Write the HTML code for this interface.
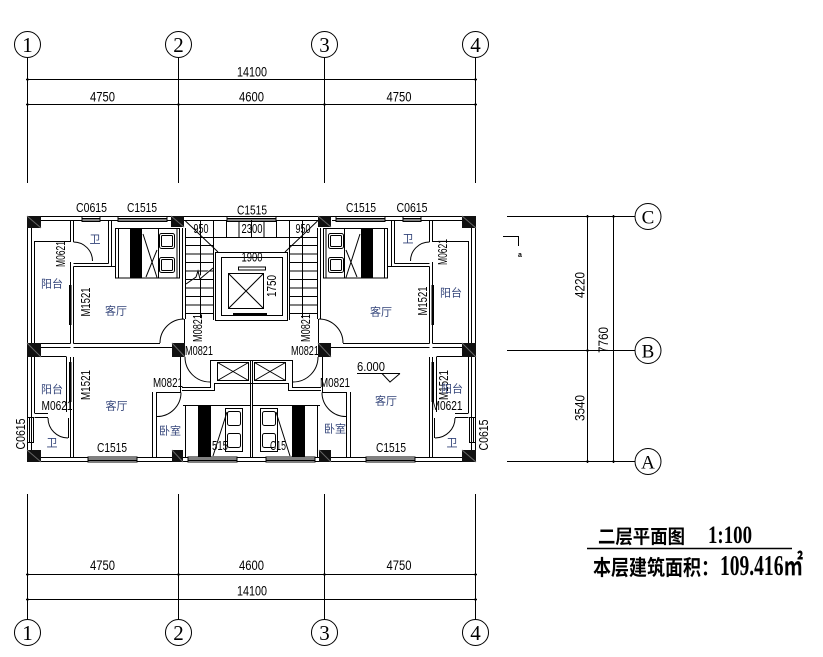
<!DOCTYPE html>
<html><head><meta charset="utf-8"><style>
html,body{margin:0;padding:0;background:#fff;}
svg{display:block;}
.t{font-family:"Liberation Sans",sans-serif;font-size:12.5px;fill:#000;text-anchor:middle;}
.d{font-family:"Liberation Sans",sans-serif;font-size:13.5px;fill:#000;text-anchor:middle;}
.cn{font-family:"Noto Sans CJK SC",sans-serif;font-size:11px;fill:#34457a;text-anchor:middle;}
.g{font-family:"Liberation Serif",serif;font-size:21px;fill:#000;text-anchor:middle;}
</style></head><body>
<svg width="823" height="657" viewBox="0 0 823 657" xmlns="http://www.w3.org/2000/svg">
<rect width="823" height="657" fill="#fff"/>

<!-- ===== TOP GRID ===== -->
<g fill="none" stroke="#000" stroke-width="1">
<circle cx="27.5" cy="44.5" r="13"/><circle cx="178.5" cy="44.5" r="13"/>
<circle cx="324.5" cy="44.5" r="13"/><circle cx="475.5" cy="44.5" r="13"/>
<path d="M27.5 57.5V183M178.5 57.5V183M324.5 57.5V183M475.5 57.5V183"/>
<path d="M26 79.5H477M26 104.5H477"/>
<!-- bottom grid -->
<circle cx="27.5" cy="632.5" r="13"/><circle cx="178.5" cy="632.5" r="13"/>
<circle cx="324.5" cy="632.5" r="13"/><circle cx="475.5" cy="632.5" r="13"/>
<path d="M27.5 494V619.5M178.5 494V619.5M324.5 494V619.5M475.5 494V619.5"/>
<path d="M26 574.5H477M26 599.5H477"/>
<!-- right grid -->
<path d="M507 216.5H635M507 350.5H635M507 461.5H635"/>
<circle cx="648" cy="216.5" r="13"/><circle cx="648" cy="350.5" r="13"/><circle cx="648" cy="461.5" r="13"/>
<path d="M587.5 215V463M613.5 215V463"/>
<path d="M503 236.5H518.5V246"/>
</g>
<g fill="#000">
<rect x="26.5" y="78.5" width="2" height="2"/><rect x="474.5" y="78.5" width="2" height="2"/>
<rect x="26.5" y="103.5" width="2" height="2"/><rect x="177.5" y="103.5" width="2" height="2"/>
<rect x="323.5" y="103.5" width="2" height="2"/><rect x="474.5" y="103.5" width="2" height="2"/>
<rect x="26.5" y="573.5" width="2" height="2"/><rect x="177.5" y="573.5" width="2" height="2"/>
<rect x="323.5" y="573.5" width="2" height="2"/><rect x="474.5" y="573.5" width="2" height="2"/>
<rect x="26.5" y="598.5" width="2" height="2"/><rect x="474.5" y="598.5" width="2" height="2"/>
<rect x="586.5" y="215.5" width="2" height="2"/><rect x="586.5" y="349.5" width="2" height="2"/><rect x="586.5" y="460.5" width="2" height="2"/>
<rect x="612.5" y="215.5" width="2" height="2"/><rect x="612.5" y="460.5" width="2" height="2"/>
</g>
<text class="g" x="27.5" y="52">1</text><text class="g" x="178.5" y="52">2</text>
<text class="g" x="324.5" y="52">3</text><text class="g" x="475.5" y="52">4</text>
<text class="g" x="27.5" y="640">1</text><text class="g" x="178.5" y="640">2</text>
<text class="g" x="324.5" y="640">3</text><text class="g" x="475.5" y="640">4</text>
<text class="g" x="648" y="223.5" style="font-size:19px">C</text>
<text class="g" x="648" y="357.5" style="font-size:19px">B</text>
<text class="g" x="648" y="468.5" style="font-size:19px">A</text>

<text class="d" x="252" y="76.5" textLength="30" lengthAdjust="spacingAndGlyphs">14100</text>
<text class="d" x="102.5" y="101.5" textLength="25" lengthAdjust="spacingAndGlyphs">4750</text>
<text class="d" x="251.5" y="101.5" textLength="25" lengthAdjust="spacingAndGlyphs">4600</text>
<text class="d" x="399" y="101.5" textLength="25" lengthAdjust="spacingAndGlyphs">4750</text>
<text class="d" x="102.5" y="570" textLength="25" lengthAdjust="spacingAndGlyphs">4750</text>
<text class="d" x="251.5" y="570" textLength="25" lengthAdjust="spacingAndGlyphs">4600</text>
<text class="d" x="399" y="570" textLength="25" lengthAdjust="spacingAndGlyphs">4750</text>
<text class="d" x="252" y="595.5" textLength="30" lengthAdjust="spacingAndGlyphs">14100</text>
<text class="d" transform="translate(584.5,285) rotate(-90)" textLength="26" lengthAdjust="spacingAndGlyphs">4220</text>
<text class="d" transform="translate(608,340) rotate(-90)" textLength="26" lengthAdjust="spacingAndGlyphs">7760</text>
<text class="d" transform="translate(584.5,408) rotate(-90)" textLength="26" lengthAdjust="spacingAndGlyphs">3540</text>
<text x="518" y="257" style="font-family:'Liberation Sans',sans-serif;font-size:7px;font-weight:bold">a</text>

<!-- ===== BUILDING ===== -->
<g fill="none" stroke="#000" stroke-width="1">
<path d="M27.5 216.5H475.5V461.5H27.5Z"/>
</g>

<g id="L" fill="none" stroke="#000" stroke-width="1">
 <path d="M41 220.5H171M184 220.5H251.5M41 457.5H172M183 457.5H251.5"/>
 <path d="M31.5 228V343M31.5 357V450M34.5 241V343M34.5 357V413"/>
 <rect x="82" y="216.5" width="18" height="5" fill="#fff"/>
 <path d="M82 218.5H100M82 220H100"/>
 <rect x="118" y="216.5" width="49" height="5" fill="#fff"/>
 <path d="M118 218.5H167M118 220H167"/>
 <rect x="88" y="457" width="49" height="5" fill="#fff"/>
 <path d="M88 459H137M88 460.5H137"/>
 <rect x="188" y="457" width="49" height="5" fill="#fff"/>
 <path d="M188 459H237M188 460.5H237"/>
 <rect x="27.5" y="417.5" width="6" height="25" fill="#fff"/>
 <path d="M29.5 417.5V442.5M31.5 417.5V442.5"/>
 <path d="M34.5 241.5H70.5"/>
 <path d="M70.5 220V242M73.5 220V242M70.5 262V343.5M73.5 266.5V343.5"/>
 <path d="M73.5 242A19 19 0 0 1 92.5 261"/>
 <path d="M108.5 220V263.5M111.5 220V266.5M73.5 263.5H108.5M73.5 266.5H115"/>
 <rect x="115.5" y="228.5" width="64" height="49.5"/>
 <path d="M118.5 229V278M143 234L157 277.5M146 277L157 250M158.5 229V278M177 229V278"/>
 <rect x="159.5" y="233.5" width="15" height="15" rx="2"/>
 <rect x="161.5" y="235.5" width="11" height="11" rx="1"/>
 <rect x="159.5" y="257.5" width="15" height="15" rx="2"/>
 <rect x="161.5" y="259.5" width="11" height="11" rx="1"/>
 <path d="M41 343.5H70.5M73.5 343.5H160M41 347.5H70.5M73.5 347.5H172M34.5 356.5H66.5"/>
 <path d="M160 343A24 24 0 0 1 184 319M184.5 319V343"/>
 <path d="M182.5 228V319M185.5 228V319"/>
 <path d="M70.5 357V458M73.5 357V458M66.5 357V412"/>
 <path d="M34.5 413.5H48M34.5 417.5H48"/>
 <path d="M48 418A20 20 0 0 0 68 438M68.5 418V438"/>
 <path d="M152.5 392V458M156.5 392V458"/>
 <path d="M181 392.5A24 24 0 0 1 157 416.5"/>
 <path d="M180.5 357V392.5H156.5"/>
 <path d="M185 357A25 25 0 0 0 210 382"/>
 <path d="M182 387.5H210.5V360.5H251.5M182 390.5H214.5V383.5H251.5"/>
 <rect x="217.5" y="362.5" width="31" height="18"/>
 <path d="M217.5 362.5L248.5 380.5M248.5 362.5L217.5 380.5"/>
 <path d="M250.5 360V458"/>
 <path d="M183 405.5H250.5M185.5 405.5V458M213 456L227 412"/>
 <rect x="225.5" y="408.5" width="17" height="43"/>
 <rect x="227.5" y="411.5" width="13" height="14" rx="2"/>
 <rect x="227.5" y="433.5" width="13" height="14" rx="2"/>
 <path d="M200.5 220.5V237.5M213.5 220.5V237.5M226.5 220.5V237.5M239 220.5V237.5"/>
 <path d="M186 237.5H251.5"/>
 <path d="M185.5 245.5H213.5M185.5 254H213.5M185.5 262.5H213.5M185.5 271H213.5M185.5 279.5H213.5M185.5 288H213.5M185.5 296.5H213.5M185.5 305H213.5M185.5 313.5H213.5"/>
 <path d="M213.5 237V320M200.5 237V318"/>
 <path d="M185.5 221L218 252"/>
</g>
<use href="#L" transform="translate(503,0) scale(-1,1)"/>

<g fill="none" stroke="#000" stroke-width="1">
 <rect x="227" y="216.5" width="49" height="5" fill="#fff"/>
 <path d="M227 218.5H276M227 220H276"/>
 <path d="M251.5 220.5V237.5"/>
 <path d="M186 284L196 277L198 271L200 279L213 268" fill="#fff"/>
 <rect x="215.5" y="252.5" width="72" height="68" fill="#fff"/>
 <rect x="221.5" y="257.5" width="61" height="58"/>
 <rect x="228.5" y="273.5" width="35" height="35"/>
 <path d="M228.5 273.5L263.5 308.5M263.5 273.5L228.5 308.5"/>
 <rect x="238.5" y="267" width="27" height="3"/>
</g>
<rect x="233" y="313" width="34" height="3" fill="#000"/>

<g fill="#000">
 <rect x="69" y="285" width="2.5" height="40"/><rect x="431.5" y="285" width="2.5" height="40"/>
 <rect x="69" y="362" width="2.5" height="40"/><rect x="431.5" y="362" width="2.5" height="40"/>
 <rect x="130" y="229" width="12" height="49"/><rect x="361" y="229" width="12" height="49"/>
 <rect x="198" y="406" width="13" height="51"/><rect x="292" y="406" width="13" height="51"/>
</g>

<g fill="none" stroke="#000" stroke-width="1">
 <path d="M357 373.5H400M382 373.5L390 382L400 373.5"/>
</g>

<text class="t" x="91.5" y="212" textLength="31" lengthAdjust="spacingAndGlyphs">C0615</text>
<text class="t" x="142" y="212" textLength="30" lengthAdjust="spacingAndGlyphs">C1515</text>
<text class="t" x="252" y="214.5" textLength="30" lengthAdjust="spacingAndGlyphs">C1515</text>
<text class="t" x="361" y="212" textLength="30" lengthAdjust="spacingAndGlyphs">C1515</text>
<text class="t" x="412" y="212" textLength="31" lengthAdjust="spacingAndGlyphs">C0615</text>
<text class="t" x="112" y="452" textLength="30" lengthAdjust="spacingAndGlyphs">C1515</text>
<text class="t" x="391" y="452" textLength="30" lengthAdjust="spacingAndGlyphs">C1515</text>
<text class="t" x="220" y="450" textLength="16" lengthAdjust="spacingAndGlyphs">515</text>
<text class="t" x="278" y="450" textLength="16" lengthAdjust="spacingAndGlyphs">C15</text>
<text class="t" transform="translate(25,434) rotate(-90)" textLength="31" lengthAdjust="spacingAndGlyphs">C0615</text>
<text class="t" transform="translate(488,435) rotate(-90)" textLength="31" lengthAdjust="spacingAndGlyphs">C0615</text>

<text class="t" x="201" y="233" textLength="15" lengthAdjust="spacingAndGlyphs">950</text>
<text class="t" x="252" y="233" textLength="21" lengthAdjust="spacingAndGlyphs">2300</text>
<text class="t" x="303" y="233" textLength="15" lengthAdjust="spacingAndGlyphs">950</text>
<text class="t" x="252" y="261.5" textLength="21" lengthAdjust="spacingAndGlyphs">1900</text>
<text class="t" transform="translate(276,286) rotate(-90)" textLength="22" lengthAdjust="spacingAndGlyphs">1750</text>

<text class="t" transform="translate(65,254) rotate(-90)" textLength="26" lengthAdjust="spacingAndGlyphs">M0621</text>
<text class="t" transform="translate(90,302) rotate(-90)" textLength="29" lengthAdjust="spacingAndGlyphs">M1521</text>
<text class="t" transform="translate(447,252) rotate(-90)" textLength="26" lengthAdjust="spacingAndGlyphs">M0621</text>
<text class="t" transform="translate(427,301) rotate(-90)" textLength="29" lengthAdjust="spacingAndGlyphs">M1521</text>
<text class="t" transform="translate(202,328) rotate(-90)" textLength="28" lengthAdjust="spacingAndGlyphs">M0821</text>
<text class="t" transform="translate(310,328) rotate(-90)" textLength="28" lengthAdjust="spacingAndGlyphs">M0821</text>
<text class="t" x="199" y="355" textLength="28" lengthAdjust="spacingAndGlyphs">M0821</text>
<text class="t" x="305" y="355" textLength="28" lengthAdjust="spacingAndGlyphs">M0821</text>
<text class="t" transform="translate(90,385) rotate(-90)" textLength="30" lengthAdjust="spacingAndGlyphs">M1521</text>
<text class="t" transform="translate(448,385) rotate(-90)" textLength="30" lengthAdjust="spacingAndGlyphs">M1521</text>
<text class="t" x="57" y="410" textLength="31" lengthAdjust="spacingAndGlyphs">M0621</text>
<text class="t" x="447" y="410" textLength="31" lengthAdjust="spacingAndGlyphs">M0621</text>
<text class="t" x="168" y="387" textLength="30" lengthAdjust="spacingAndGlyphs">M0821</text>
<text class="t" x="335" y="387" textLength="30" lengthAdjust="spacingAndGlyphs">M0821</text>
<text class="t" x="371" y="371" textLength="28" lengthAdjust="spacingAndGlyphs">6.000</text>

<text class="cn" x="95" y="243">卫</text>
<text class="cn" x="52" y="287.5">阳台</text>
<text class="cn" x="116" y="314.5">客厅</text>
<text class="cn" x="408" y="242.5">卫</text>
<text class="cn" x="451" y="296.5">阳台</text>
<text class="cn" x="381" y="315.5">客厅</text>
<text class="cn" x="52" y="393">阳台</text>
<text class="cn" x="52" y="446.5">卫</text>
<text class="cn" x="116.5" y="409.5">客厅</text>
<text class="cn" x="170" y="434.5">卧室</text>
<text class="cn" x="335" y="432.5">卧室</text>
<text class="cn" x="386" y="404.5">客厅</text>
<text class="cn" x="452" y="392.5">阳台</text>
<text class="cn" x="452" y="446.5">卫</text>

<g fill="#111">
 <rect x="27" y="216" width="14" height="12"/><rect x="171" y="216" width="13" height="11"/>
 <rect x="318" y="216" width="13" height="11"/><rect x="462" y="216" width="14" height="12"/>
 <rect x="27" y="343" width="14" height="14"/><rect x="172" y="343" width="13" height="14"/>
 <rect x="318" y="343" width="13" height="14"/><rect x="462" y="343" width="14" height="14"/>
 <rect x="27" y="450" width="14" height="12"/><rect x="172" y="450" width="11" height="12"/>
 <rect x="319" y="450" width="12" height="12"/><rect x="462" y="450" width="14" height="12"/>
</g>
<g stroke="#666" stroke-width="1">
 <path d="M27 216L41 228M462 216L476 228M27 343L41 357M462 343L476 357M27 450L41 462M462 450L476 462M171 216L184 227M318 216L331 227M172 343L185 357M318 343L331 357M172 450L183 462M319 450L331 462"/>
</g>

<text x="598" y="543" textLength="87" lengthAdjust="spacingAndGlyphs" style="font-family:'Noto Sans CJK SC',sans-serif;font-size:19px;font-weight:bold;fill:#000">二层平面图</text>
<text x="708" y="543" textLength="44" lengthAdjust="spacingAndGlyphs" style="font-family:'Liberation Serif',serif;font-size:25px;font-weight:bold;fill:#000">1:100</text>
<path d="M587 548.5H792" stroke="#000" stroke-width="1.5"/>
<text x="593" y="575" textLength="126" lengthAdjust="spacingAndGlyphs" style="font-family:'Noto Sans CJK SC',sans-serif;font-size:21px;font-weight:bold;fill:#000">本层建筑面积：</text>
<text x="720" y="575" textLength="83" lengthAdjust="spacingAndGlyphs" style="font-family:'Liberation Serif','Noto Sans CJK SC',serif;font-size:28px;font-weight:bold;fill:#000">109.416㎡</text>
</svg>
</body></html>
